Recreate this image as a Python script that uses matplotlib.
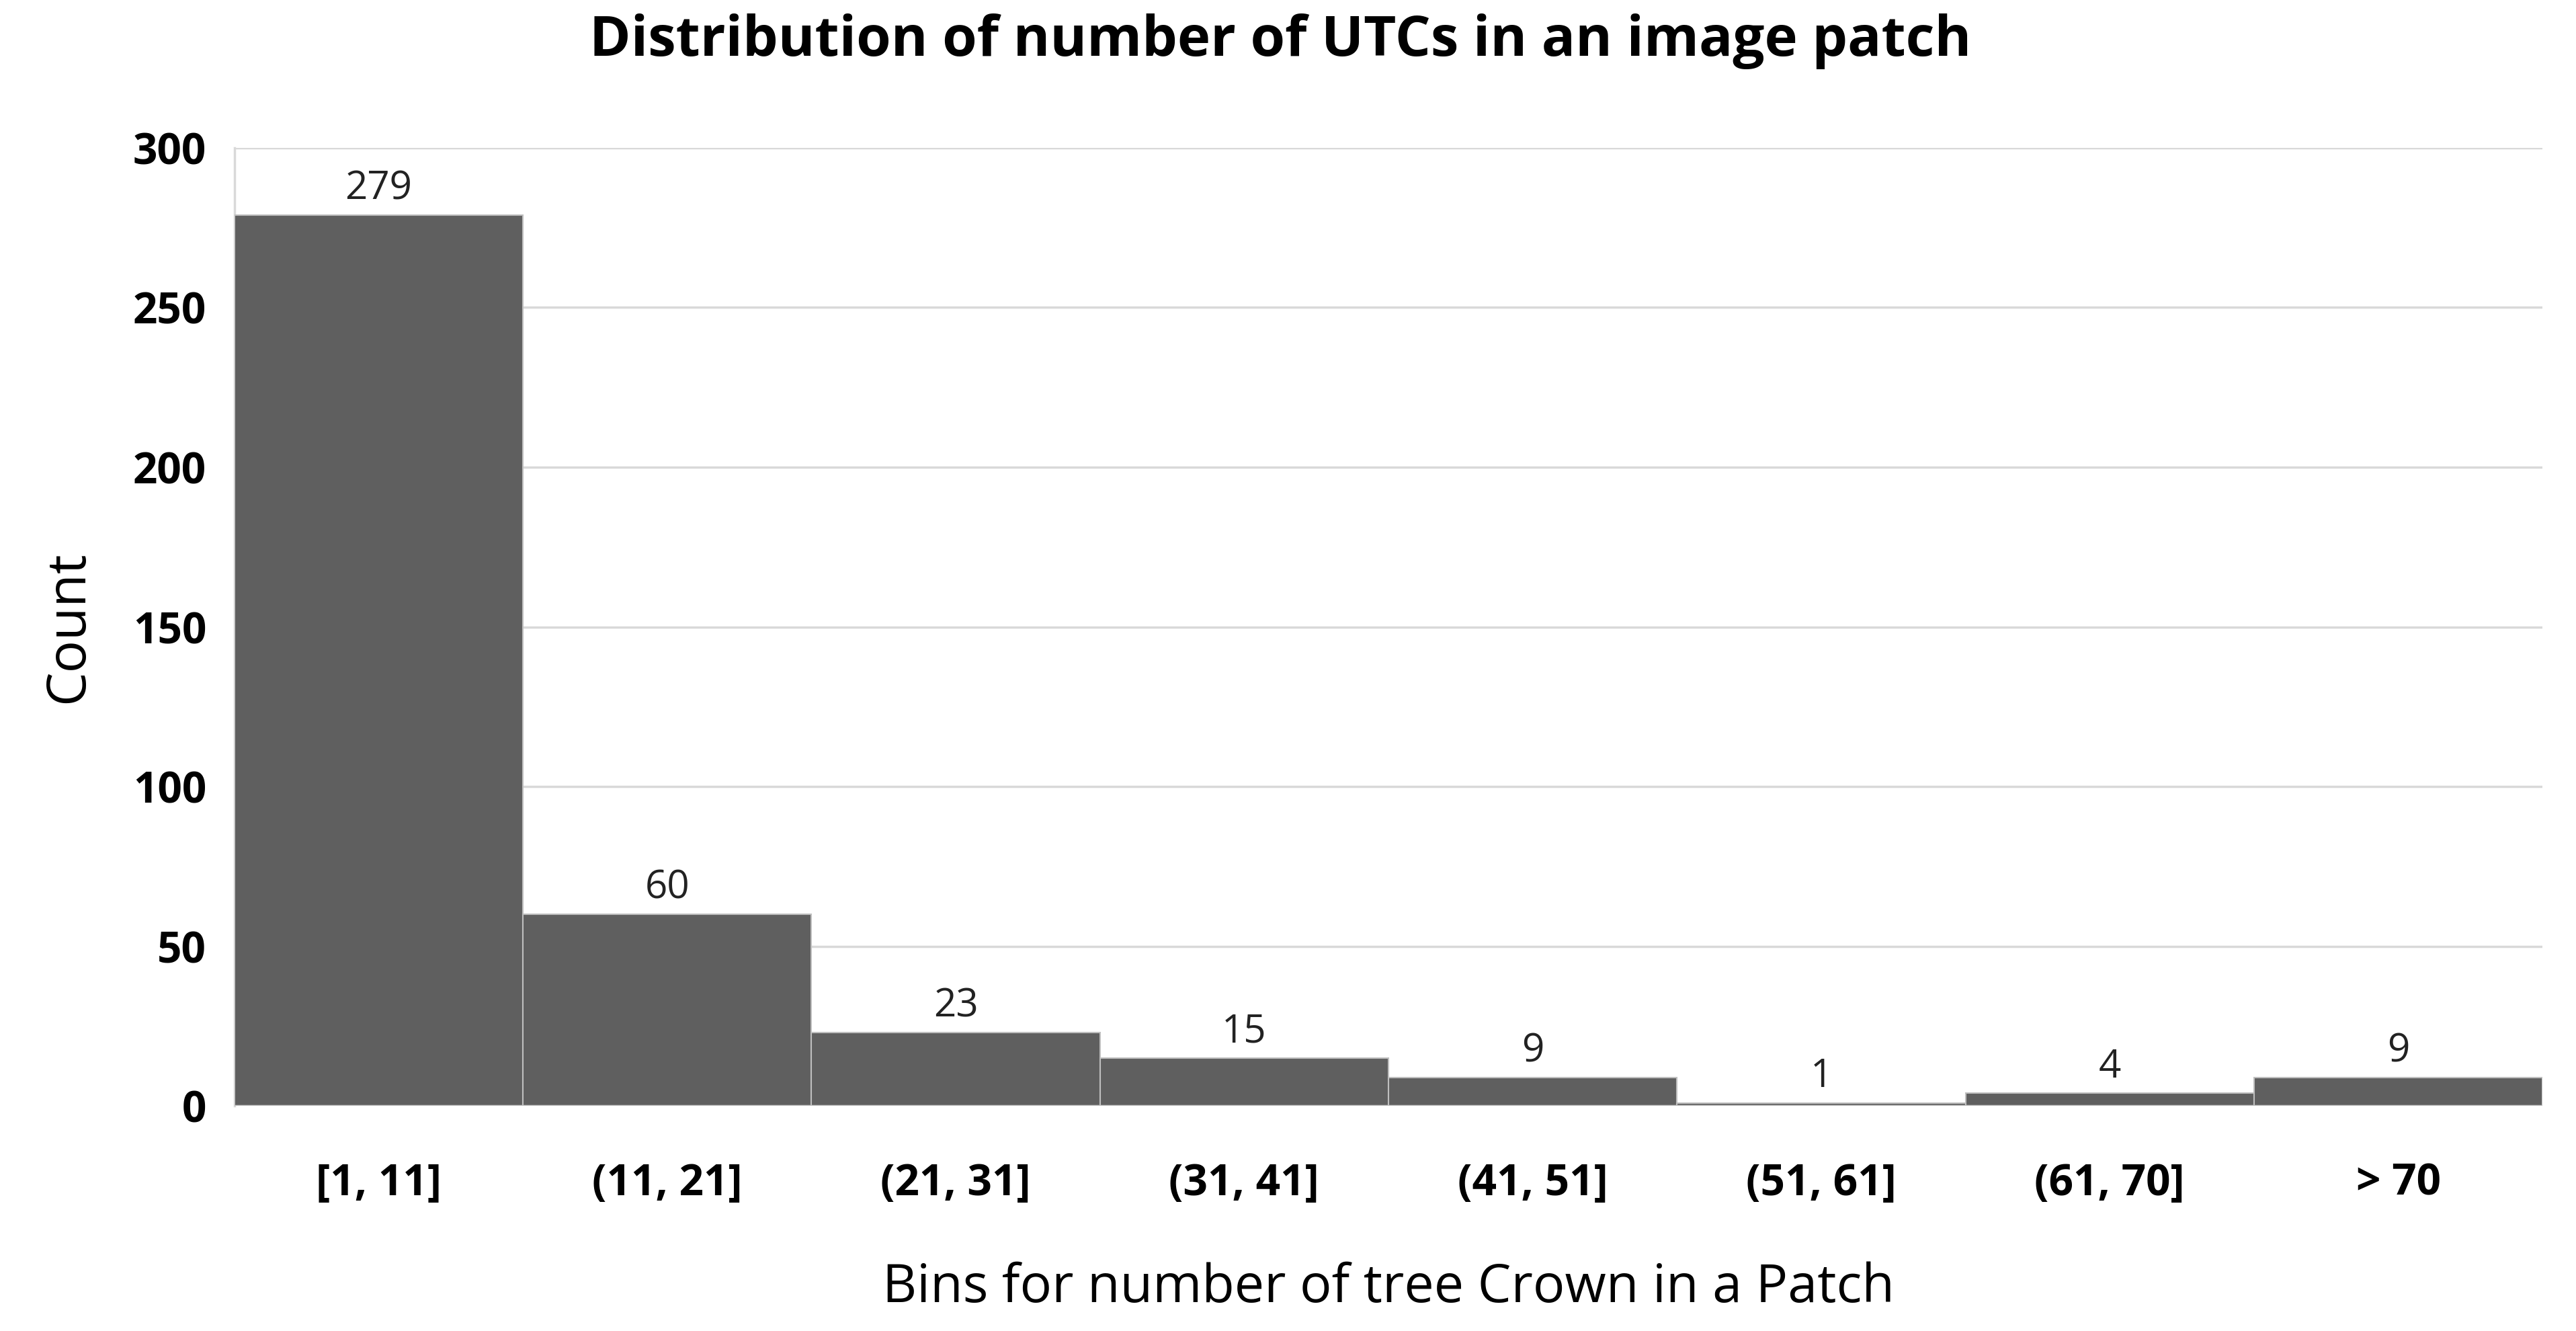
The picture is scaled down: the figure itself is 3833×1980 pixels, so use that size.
import matplotlib
matplotlib.use("Agg")
import matplotlib.pyplot as plt
import numpy as np

categories = ["[1, 11]", "(11, 21]", "(21, 31]", "(31, 41]", "(41, 51]", "(51, 61]", "(61, 70]", "> 70"]
counts = [279, 60, 23, 15, 9, 1, 4, 9]
yticks = [0, 50, 100, 150, 200, 250, 300]

plt.rcParams['font.family'] = ['Open Sans', 'DejaVu Sans']
fig = plt.figure(figsize=(38.33, 19.8), dpi=100)
ax = fig.add_axes([0.091, 0.169, 0.896, 0.72])
x = np.arange(len(categories))
ax.bar(x, counts, width=1.0, color='#5f5f5f', edgecolor='#bfbfbf', linewidth=1.5, zorder=3)
for xi, c in zip(x, counts):
    ax.text(xi, c + 2, str(c), ha='center', va='bottom', fontsize=42, color='#222222')
ax.set_xlim(-0.5, len(categories) - 0.5)
ax.set_ylim(0, 300)
ax.set_yticks(yticks)
ax.set_yticklabels([str(v) for v in yticks], fontsize=46, fontweight='bold')
ax.set_xticks(x)
ax.set_xticklabels(categories, fontsize=46, fontweight='bold')
ax.tick_params(axis='y', length=0, pad=30)
ax.tick_params(axis='x', length=0, pad=60)
ax.grid(axis='y', color='#d9d9d9', linewidth=2.5, zorder=0)
for s in ['top', 'right', 'bottom']:
    ax.spines[s].set_visible(False)
ax.spines['left'].set_color('#d9d9d9')
ax.spines['left'].set_linewidth(2.5)
ax.axhline(0, color='#bfbfbf', linewidth=2.5, zorder=4)
ax.set_ylabel('Count', fontsize=58, labelpad=40)
ax.set_xlabel('Bins for number of tree Crown in a Patch', fontsize=57, labelpad=60)
fig.suptitle('Distribution of number of UTCs in an image patch', fontsize=60, fontweight='bold', x=0.497, y=0.99)
fig.savefig('out.png', dpi=100, facecolor='white')
